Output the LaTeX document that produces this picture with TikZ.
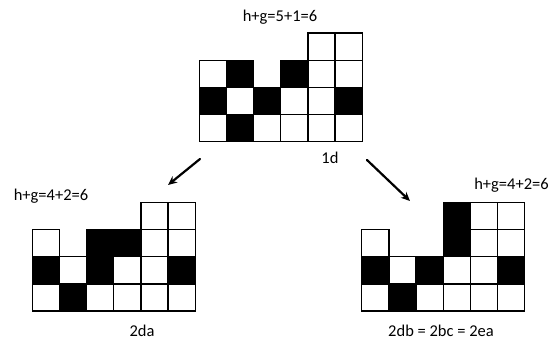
\documentclass[tikz,border=0pt]{standalone}
\usepackage{fontspec}
\setmainfont{Carlito}
\usetikzlibrary{arrows.meta}
\tikzset{
  cellst/.style={draw=black, line width=1.3pt},
  lbl/.style={font=\fontsize{16.5}{18}\selectfont, inner sep=0pt, anchor=base},
  arrowst/.style={line width=2.2pt, -{Stealth[length=9pt,width=8pt]}, line cap=round}
}
\newcommand\gridcells[3]{%
  \foreach \c/\r/\f in {#3}
    \draw[cellst, fill=\f] ({#1+\c*27.15},{#2-\r*27.15}) rectangle ++(27.15,-27.15);
}
\begin{document}
\begin{tikzpicture}[x=1pt,y=-1pt]
\useasboundingbox (0,0) rectangle (554,342);
% top grid (1d)
\gridcells{199.3}{141.7}{0/0/white,0/1/black,0/2/white,
  1/0/black,1/1/white,1/2/black,
  2/0/white,2/1/black,
  3/0/white,3/1/white,3/2/black,
  4/0/white,4/1/white,4/2/white,4/3/white,
  5/0/white,5/1/black,5/2/white,5/3/white}
% left grid (2da)
\gridcells{32.3}{311}{0/0/white,0/1/black,0/2/white,
  1/0/black,1/1/white,
  2/0/white,2/1/black,2/2/black,
  3/0/white,3/1/white,3/2/black,
  4/0/white,4/1/white,4/2/white,4/3/white,
  5/0/white,5/1/black,5/2/white,5/3/white}
% right grid (2db)
\gridcells{361.7}{311}{0/0/white,0/1/black,0/2/white,
  1/0/black,1/1/white,
  2/0/white,2/1/black,
  3/0/white,3/1/white,3/2/black,3/3/black,
  4/0/white,4/1/white,4/2/white,4/3/white,
  5/0/white,5/1/black,5/2/white,5/3/white}
% labels
\node[lbl] (t1) at (280,22) {h+g=5+1=6};
\node[lbl] (l1) at (330,164) {1d};
\node[lbl] (t2) at (51,200) {h+g=4+2=6};
\node[lbl] (l2) at (142,336) {2da};
\node[lbl] (t3) at (511.5,189) {h+g=4+2=6};
\node[lbl] (l3) at (441,336) {2db = 2bc = 2ea};
% arrows
\coordinate (a1s) at (200,159);
\coordinate (a1e) at (168,185);
\coordinate (a2s) at (367,160);
\coordinate (a2e) at (410,201);
\draw[arrowst] (a1s) -- (a1e);
\draw[arrowst] (a2s) -- (a2e);
\end{tikzpicture}
\end{document}
